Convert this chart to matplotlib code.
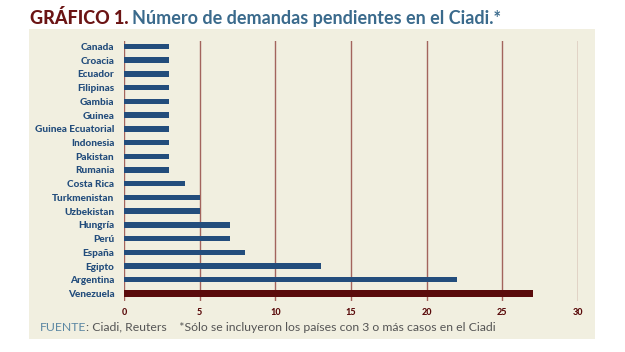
import matplotlib
matplotlib.use("Agg")
import matplotlib.pyplot as plt
from matplotlib.patches import Rectangle

countries = ["Canada", "Croacia", "Ecuador", "Filipinas", "Gambia", "Guinea",
             "Guinea Ecuatorial", "Indonesia", "Pakistan", "Rumania", "Costa Rica",
             "Turkmenistan", "Uzbekistan", "Hungría", "Perú", "España", "Egipto",
             "Argentina", "Venezuela"]
values = [3, 3, 3, 3, 3, 3, 3, 3, 3, 3, 4, 5, 5, 7, 7, 8, 13, 22, 27]
xticks = [0, 5, 10, 15, 20, 25, 30]

W, H = 625, 352
fig = plt.figure(figsize=(W/100, H/100), dpi=100)
fig.patch.set_facecolor("white")

FONT = ["Lato", "DejaVu Sans"]
beige = "#f1efe0"
navy = "#234d7c"
darkred = "#5a0b0b"
gridc = "#a3645d"

# beige panel
fig.add_artist(Rectangle((29/W, 1-339/H), (595-29)/W, (339-29)/H,
                         transform=fig.transFigure, facecolor=beige,
                         edgecolor="none", zorder=0))

ax = fig.add_axes([124/W, 1-301/H, (578-124)/W, (301-41)/H])
ax.set_facecolor("none")
y = list(range(len(countries)))
colors = [navy]*(len(countries)-1) + [darkred]
heights = [0.4]*(len(countries)-1) + [0.48]
ax.barh(y, values, height=heights, color=colors, zorder=3)
for xv in xticks:
    ax.axvline(xv, color=gridc, lw=1.0, zorder=2)
ax.set_xlim(0, 30)
ax.set_ylim(18.55, -0.4)
for s in ax.spines.values():
    s.set_visible(False)
ax.set_yticks(y)
ax.set_yticklabels(countries, fontsize=7.2, fontweight="black", color=navy, family=FONT)
ax.set_xticks(xticks)
ax.set_xticklabels([str(v) for v in xticks], fontsize=6.5, fontweight="black",
                   color=darkred, family=FONT)
ax.tick_params(axis="both", length=0)
ax.tick_params(axis="y", pad=7)
ax.tick_params(axis="x", pad=5)

# title
t1 = fig.text(30/W, 1-24/H, "GRÁFICO 1.", fontsize=13, fontweight="black",
              color="#6b1414", family=FONT, va="baseline")
fig.canvas.draw()
r = fig.canvas.get_renderer()
bb = t1.get_window_extent(r)
fig.text((bb.x1 + 4)/W, 1-24/H, "Número de demandas pendientes en el Ciadi.*",
         fontsize=13, fontweight="bold", color="#3a6a8c", family=FONT, va="baseline")

# footer
f1 = fig.text(40/W, 1-331/H, "FUENTE", fontsize=8.8, color="#5b87a3",
              family=FONT, va="baseline")
fig.canvas.draw()
bb = f1.get_window_extent(r)
fig.text(bb.x1/W, 1-331/H,
         ": Ciadi, Reuters    *Sólo se incluyeron los países con 3 o más casos en el Ciadi",
         fontsize=8.8, color="#555555", family=FONT, va="baseline")

fig.savefig("out.png", dpi=100, facecolor="white")
